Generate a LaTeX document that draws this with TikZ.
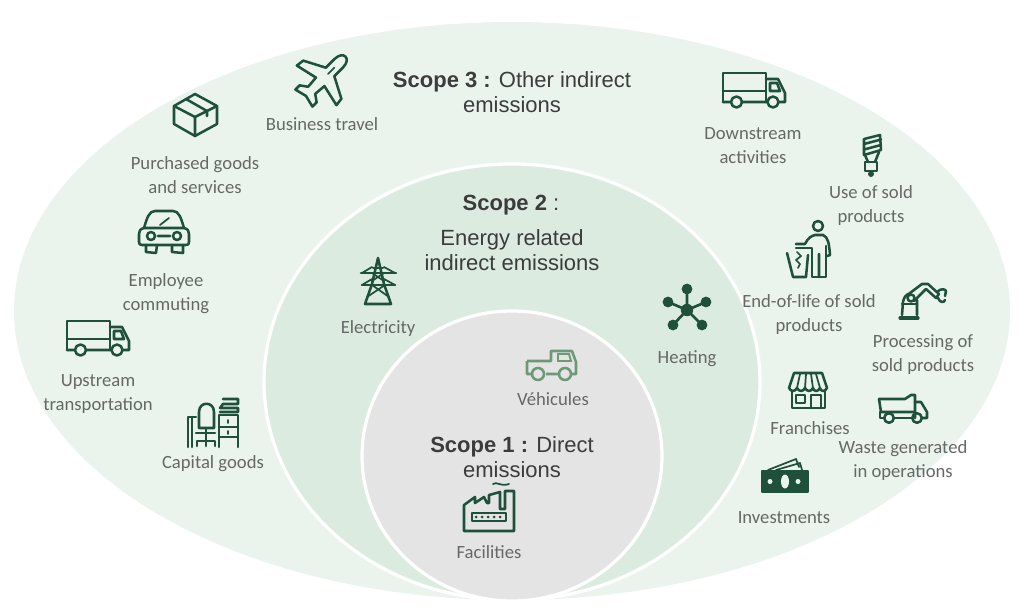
\documentclass[tikz,border=0pt]{standalone}
\usepackage{fontspec}
\setmainfont{Carlito}
\newfontfamily\titlefont{Liberation Sans}
\definecolor{outerfill}{HTML}{EAF4ED}
\definecolor{midfill}{HTML}{DCEBDF}
\definecolor{innerfill}{HTML}{E4E4E4}
\definecolor{icongreen}{HTML}{1F5039}
\definecolor{softgreen}{HTML}{6C9A78}
\definecolor{labelgrey}{HTML}{666866}
\definecolor{titlegrey}{HTML}{3C3C3C}
\tikzset{
  zone/.style={draw=white,line width=2.4pt},
  lab/.style={text=labelgrey,font=\fontsize{14}{18}\selectfont,align=center,inner sep=0pt},
  ttl/.style={text=titlegrey,font=\titlefont\fontsize{16.5}{18.6}\selectfont,align=center,inner sep=0pt},
  ico/.style={draw=icongreen,line width=1.9pt,line join=round,line cap=round},
  thin ico/.style={ico,line width=1.3pt},
  truck/.pic={
    \draw[ico] (0,29)--(0,0)--(43,0)--(43,29);
    \draw[ico] (0,18)--(43,18);
    \draw[ico] (0,29)--(7,29) (20,29)--(44,29) (56,29)--(62,29)--(62,20)--(55,6)--(43,6);
    \draw[ico] (47,10)--(54,10)--(57,18)--(47,18)--cycle;
    \draw[ico] (13.5,29) circle (5.5) (50,29) circle (5.5);
  },
  plane/.pic={
    \draw[ico] (-6,-22) .. controls (-6,-35) and (6,-35) .. (6,-22)
      --(6,-10)--(27,1)--(28,9)--(6,4)--(5,16)--(12,21)--(12,27)--(0,24)
      --(-12,27)--(-12,21)--(-5,16)--(-6,4)--(-28,9)--(-27,1)--(-6,-10)--cycle;
    \draw[thin ico] (0,-16)--(0,-7);
  }
}
\begin{document}
\begin{tikzpicture}[x=0.75pt,y=-0.75pt]
\useasboundingbox (0,0) rectangle (1024,610);
% zones
\fill[outerfill] (512,311) ellipse [x radius=498,y radius=289];
\filldraw[zone,fill=midfill] (512,382) ellipse [x radius=248,y radius=218];
\filldraw[zone,fill=innerfill] (512,456) ellipse [x radius=150,y radius=145];
% titles
\node[ttl] (t3) at (512,92) {{\bfseries Scope 3 :} Other indirect\\emissions};
\node[ttl] (t2a) at (511,205) {{\bfseries Scope 2} :};
\node[ttl] (t2) at (512,250) {Energy related\\indirect emissions};
\node[ttl] (t1) at (512,457) {{\bfseries Scope 1 :} Direct\\emissions};
% labels
\node[lab] (l1) at (322,124) {Business travel};
\node[lab] (l2) at (195,175) {Purchased goods\\and services};
\node[lab] (l3) at (166,294) {Employee\\commuting};
\node[lab] (l4) at (98,394) {Upstream\\transportation};
\node[lab] (l5) at (213,464) {Capital goods};
\node[lab] (l6) at (378,329) {Electricity};
\node[lab] (l7) at (687,359) {Heating};
\node[lab] (l8) at (553,399) {Véhicules};
\node[lab] (l9) at (489,552) {Facilities};
\node[lab] (l10) at (753,146) {Downstream\\activities};
\node[lab] (l11) at (871,206) {Use of sold\\products};
\node[lab] (l12) at (809,315) {End-of-life of sold\\products};
\node[lab] (l13) at (923,355) {Processing of\\sold products};
\node[lab] (l14) at (810,428) {Franchises};
\node[lab] (l15) at (903,461) {Waste generated\\in operations};
\node[lab] (l16) at (784,518) {Investments};
% trucks and plane
\pic at (67,321) {truck};
\pic at (723,73) {truck};
\pic[rotate=-45] at (323,79) {plane};
% box
\draw[ico] (195,94)--(217,106)--(217,124)--(195,136)--(174,124)--(174,106)--cycle;
\draw[ico] (174,106)--(195,117)--(217,106) (195,117)--(195,136);
\draw[ico] (186,99)--(207,111)--(207,116);
% car
\draw[ico] (144,228) .. controls (147,218) and (149,211) .. (155,211)--(173,211)
  .. controls (179,211) and (181,218) .. (184,228);
\draw[ico] (144,228)--(184,228) .. controls (188,229) and (189,231) .. (189,234)
  --(189,242) .. controls (189,244) and (188,245) .. (186,245)--(142,245)
  .. controls (140,245) and (139,244) .. (139,242)--(139,234)
  .. controls (139,231) and (140,229) .. (144,228);
\draw[ico] (151,236) circle (4) (177,236) circle (4) (158,236)--(170,236);
\draw[ico] (146,245)--(146,252)--(156,253)--(157,245) (172,245)--(172,252)--(183,253)--(183,245);
\draw[thin ico] (160,225)--(169,218);
% desk and chair
\draw[ico] (199,428)--(199,412) .. controls (199,401) and (214,401) .. (214,412)--(214,428)--cycle;
\draw[ico] (196,433)--(215,433) (206,428)--(206,440) (197,446)--(197,441)--(215,441)--(215,446) (206,440)--(206,446);
\draw[ico] (188,447)--(188,417)--(196,417) (192,417)--(192,447);
\draw[ico] (219,447)--(219,415)--(238,415)--(238,447);
\draw[ico] (219,427)--(238,427) (219,437)--(238,437);
\draw[ico] (223,399)--(238,399)--(238,404)--(223,404)--(220,408)--(238,408)--(238,412)--(220,412);
\draw[thin ico] (228,420)--(228,423) (228,431)--(228,434);
% bulb
\draw[ico] (864,139)--(880,135)--(881,150)--(864,155)--cycle;
\draw[ico] (864,144)--(881,139.5) (864,149.5)--(881,145);
\draw[ico] (865,155)--(868,162) (879,152)--(875,162);
\draw[ico] (865,162)--(877,162)--(877,171)--(865,171)--cycle;
\fill[icongreen] (871,174) circle (3);
% person with bin
\draw[ico] (818,226) circle (5);
\draw[ico] (796,244)--(805,244) .. controls (808,238) and (811,236) .. (815,235)--(823,235)
  .. controls (828,237) and (829,243) .. (830,255);
\draw[ico] (796,248)--(812,248)--(812,277)--(826,277)--(826,246);
\draw[ico] (819,277)--(819,254) (830,255)--(827,256);
\draw[ico] (787,253)--(793,277)--(806,277)--(808,255);
\draw[thin ico] (797,252)--(801,256)--(796,260)--(800,264)--(798,268);
% robot
\draw[ico,line width=2.4pt] (900,318)--(918,318);
\draw[ico] (902,315)--(903,302) .. controls (904,297) and (906,295) .. (908,294)
  (917,300)--(917,315);
\draw[ico] (902,304)--(917,304);
\draw[ico] (906,296)--(922,284)--(928,284)--(939,294)--(936,298)--(926,289)--(914,301);
\draw[ico] (911,298) circle (3.5);
\draw[ico] (937,292) .. controls (941,288) and (945,289) .. (946,291)--(945,296)
  (938,298) .. controls (940,303) and (944,303) .. (945,300);
% shop
\draw[ico] (794,373)--(822,373)--(827,388) .. controls (825,392) and (821,392) .. (820,388)
  .. controls (818,392) and (814,392) .. (813,388) .. controls (811,392) and (807,392) .. (805,388)
  .. controls (803,392) and (799,392) .. (797,388) .. controls (795,392) and (791,392) .. (789,388)--cycle;
\draw[thin ico] (800,374)--(797,388) (806,374)--(805,388) (811,374)--(813,388) (816,374)--(820,388);
\draw[ico] (792,391)--(792,408)--(825,408)--(825,391);
\draw[ico] (796,395)--(805,395)--(805,403)--(796,403)--cycle (811,408)--(811,395)--(821,395)--(821,408);
% dump truck
\draw[ico] (879,399)--(905,399)--(911,395)--(915,395)--(915,418);
\draw[ico] (879,399)--(881,412)--(915,412);
\draw[ico] (915,402)--(921,402)--(927,412)--(927,418)--(922,418);
\draw[ico] (880,412)--(880,418)--(884,418) (894,418)--(912,418);
\draw[ico] (889,418) circle (4.8) (917,418) circle (4.8);
% money
\draw[ico,fill=icongreen] (762,471) rectangle (808,492);
\fill[outerfill] (785,481.5) ellipse [x radius=4,y radius=7];
\fill[outerfill] (770,481.5) circle (2.5) (798,481.5) circle (2.5);
\draw[thin ico] (768,470)--(796,459)--(799,467) (776,470)--(800,463)--(802,470);
% tower
\draw[ico] (378,258)--(372,284)--(365,304)--(391,304)--(384,284)--cycle;
\draw[ico] (361,273)--(396,273) (362,285)--(395,285);
\draw[thin ico] (373,268)--(383,268) (372,273)--(384,281) (384,273)--(372,281) (372,285)--(389,297) (385,285)--(367,297) (362,273)--(372,267) (395,273)--(384,267) (362,285)--(372,279) (395,285)--(384,279);
% heating network
\draw[icongreen,line width=2pt] (687,310)--(687,289) (687,310)--(668,302) (687,310)--(706,302) (687,310)--(673,325) (687,310)--(702,325);
\fill[icongreen] (687,310) circle (6.2) (687,289) circle (5.4) (668,302) circle (5.4) (706,302) circle (5.4) (673,325) circle (5.4) (702,325) circle (5.4);
% pickup
\draw[draw=softgreen,line width=1.9pt,line join=round] (527,361)--(551,361)--(551,351)--(572,351)--(576,362)--(576,374)--(572,374)
  (558,374)--(546,374) (531,374)--(527,374)--(527,361);
\draw[draw=softgreen,line width=1.4pt] (558,354)--(569,354)--(571,361)--(558,361)--cycle;
\draw[draw=softgreen,line width=1.9pt] (538,374) circle (6) (565,374) circle (6);
% factory
\draw[ico] (464,531)--(514,531)--(514,491)--(505,491)--(505,509)
  (464,531)--(464,505)--(475,497)--(475,503)--(484,497)--(487,503)--(489,503)--(489,495)--(500,492)--(500,509)--(505,509);
\draw[ico] (472,513) rectangle (506,521);
\foreach \dx in {476,482,488,494,500}{\fill[icongreen] (\dx,517) circle (1.5);}
\draw[thin ico] (493,484) .. controls (497,481) and (500,487) .. (509,484);
\end{tikzpicture}
\end{document}
